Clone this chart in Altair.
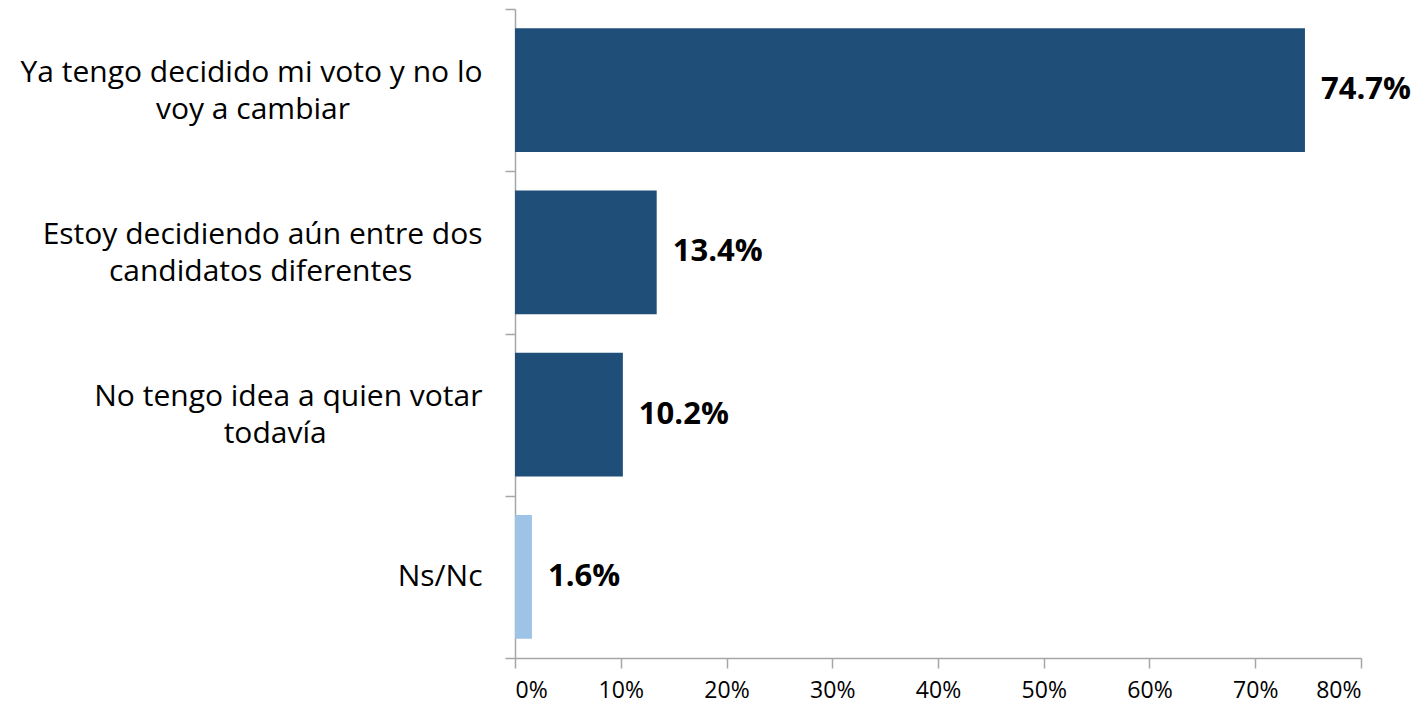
import altair as alt
import pandas as pd

line1 = ["Ya tengo decidido mi voto y no lo", "Estoy decidiendo aún entre dos",
         "No tengo idea a quien votar", "Ns/Nc"]
line2 = ["voy a cambiar", "candidatos diferentes", "todavía", ""]
values = [0.747, 0.134, 0.102, 0.016]
labels = ["74.7%", "13.4%", "10.2%", "1.6%"]
x_ticks = [0, 0.1, 0.2, 0.3, 0.4, 0.5, 0.6, 0.7, 0.8]

NBSP = "\u00a0"
ZWSP = "\u200b"  # keeps the trailing no-break spaces from being trimmed
# second line kept roughly centred under the first one
categories = [
    a + ("|" + b + NBSP * max(len(a) - len(b) - 3 * (i == 0), 0) + ZWSP if b else "")
    for i, (a, b) in enumerate(zip(line1, line2))
]

df = pd.DataFrame({"categoria": categories, "valor": values, "etiqueta": labels})

DARK = "#1F4E79"
LIGHT = "#9DC3E6"
AXIS = "#A6A6A6"
FONT = "Open Sans"

label_expr = "indexof(datum.label, '|') >= 0 ? split(datum.label, '|') : datum.label"

y_enc = alt.Y(
    "categoria:N", sort=categories, title=None,
    scale=alt.Scale(paddingInner=0, paddingOuter=0),
    axis=alt.Axis(
        labelExpr=label_expr,
        labelFont=FONT, labelFontSize=30, labelColor="#000000",
        labelLineHeight=37, labelPadding=23, labelAlign="right",
        labelBaseline="middle", labelLimit=800,
        labelOffset={"condition": {"test": "indexof(datum.label, '|') >= 0", "value": -18},
                     "value": 0},
        domainColor=AXIS, domainWidth=1.5, tickColor=AXIS, tickWidth=1.5,
        tickSize=10, tickBand="extent", grid=False,
    ),
)

x_enc = alt.X(
    "valor:Q", title=None,
    scale=alt.Scale(domain=[0, 0.8], nice=False),
    axis=alt.Axis(
        values=x_ticks, format=".0%", labelFont=FONT, labelFontSize=23,
        labelColor="#000000", labelPadding=11, domainColor=AXIS, domainWidth=1.5,
        tickColor=AXIS, tickWidth=1.5, tickSize=10, grid=False,
    ),
)

bars = alt.Chart(df).mark_bar(height=alt.RelativeBandSize(0.764)).encode(
    y=y_enc, x=x_enc,
    color=alt.Color("categoria:N", scale=alt.Scale(domain=categories,
                    range=[DARK, DARK, DARK, LIGHT]), legend=None),
)

text = alt.Chart(df).mark_text(
    align="left", baseline="middle", dx=16, font=FONT, fontSize=31,
    fontWeight="bold", color="#000000",
).encode(
    y=alt.Y("categoria:N", sort=categories), x="valor:Q", text="etiqueta:N",
)

chart = alt.layer(bars, text).properties(
    width=846, height=649, background="white",
    autosize=alt.AutoSizeParams(type="none"),
    padding={"left": 507, "top": 1, "right": 52, "bottom": 46},
).configure_view(stroke=None)

chart.save("out.html", embed_options={"renderer": "svg", "actions": False})
